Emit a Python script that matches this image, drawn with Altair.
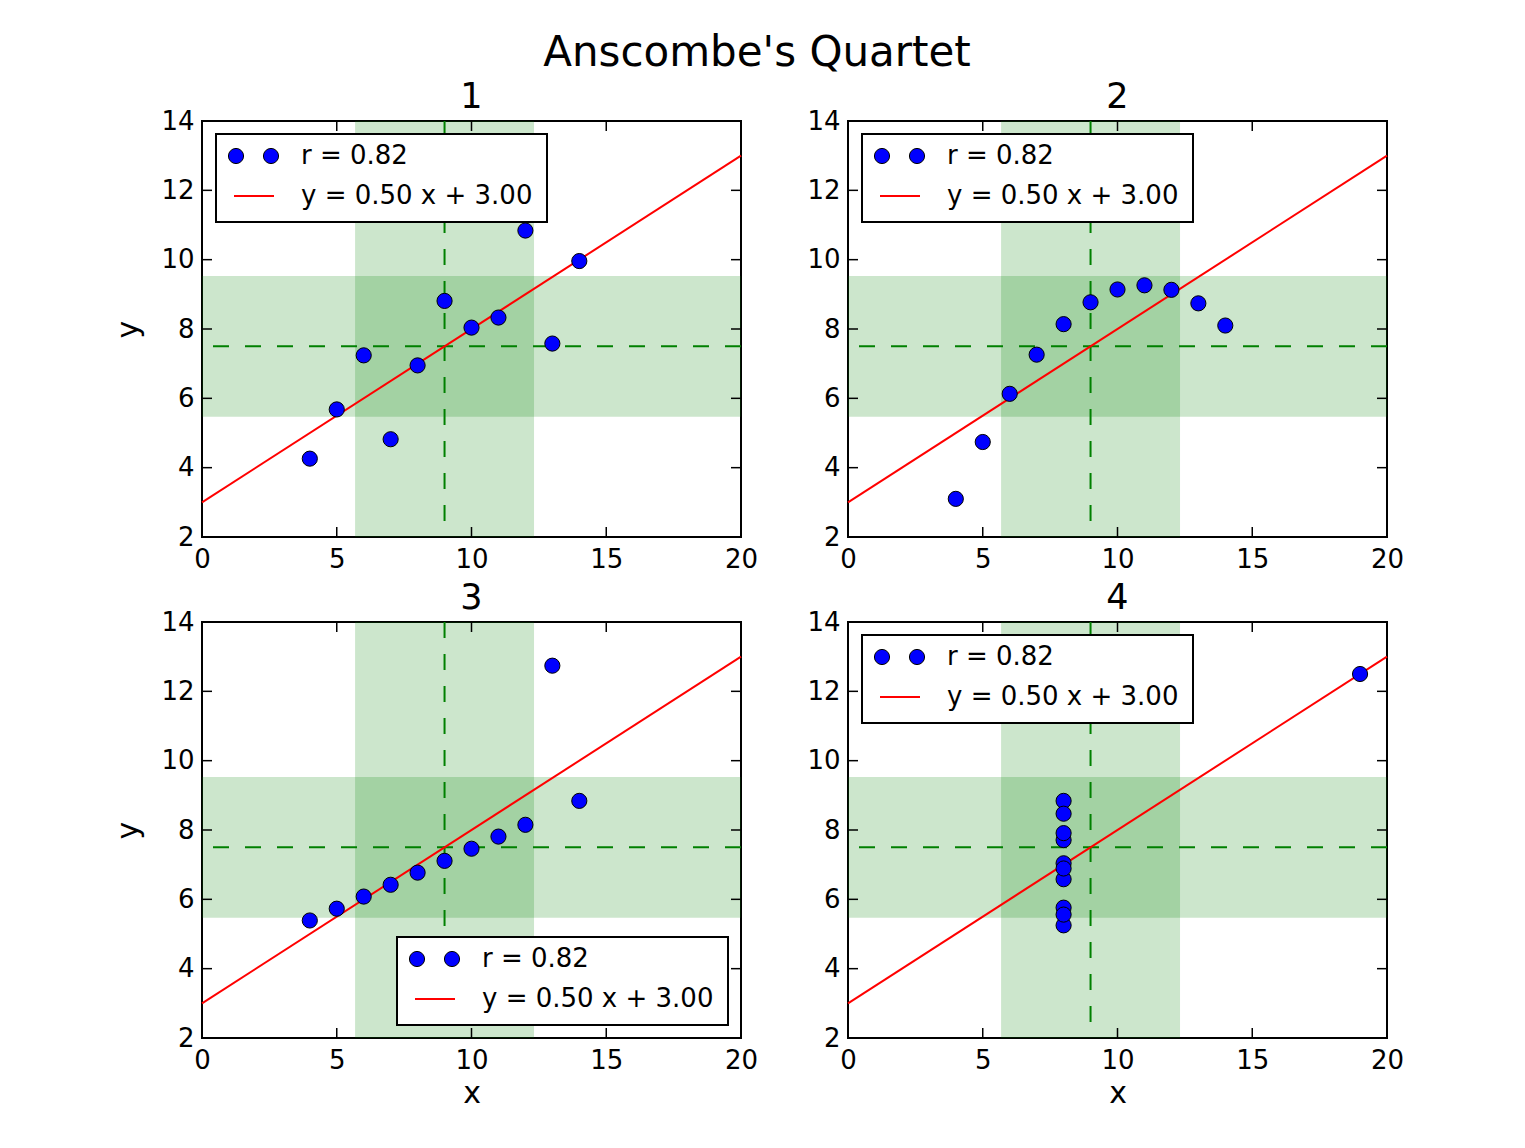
import altair as alt
import pandas as pd

# Anscombe's quartet data
x123 = [10, 8, 13, 9, 11, 14, 6, 4, 12, 7, 5]
y1 = [8.04, 6.95, 7.58, 8.81, 8.33, 9.96, 7.24, 4.26, 10.84, 4.82, 5.68]
y2 = [9.14, 8.14, 8.74, 8.77, 9.26, 8.10, 6.13, 3.10, 9.13, 7.26, 4.74]
y3 = [7.46, 6.77, 12.74, 7.11, 7.81, 8.84, 6.08, 5.39, 8.15, 6.42, 5.73]
x4 = [8, 8, 8, 8, 8, 8, 8, 19, 8, 8, 8]
y4 = [6.58, 5.76, 7.71, 8.84, 8.47, 7.04, 5.25, 12.50, 5.56, 7.91, 6.89]

x_mean, x_std = 9.0, 3.32
y_mean, y_std = 7.50, 2.03
slope, intercept = 0.50, 3.00

x_limits = [0, 20]
y_limits = [2, 14]
x_ticks = [0, 5, 10, 15, 20]
y_ticks = [2, 4, 6, 8, 10, 12, 14]
legend_labels = ["r = 0.82", "y = 0.50 x + 3.00"]
panel_titles = ["1", "2", "3", "4"]
main_title = "Anscombe's Quartet"

W, H = 539, 416
FONT = "DejaVu Sans"
GREEN = "#008000"
BLUE = "#0000ff"
RED = "#ff0000"
LEG_W, LEG_H = 331, 88
DASH = [16, 16]
DOT = 230


def one():
    return pd.DataFrame({"k": [0]})


def panel(idx, xs, ys, x_title, y_title, legend_corner, with_main_title=False):
    xscale = alt.Scale(domain=x_limits, nice=False, zero=False)
    yscale = alt.Scale(domain=y_limits, nice=False, zero=False)
    xaxis = alt.Axis(values=x_ticks, format="d", title=x_title)
    yaxis = alt.Axis(values=y_ticks, format="d", title=y_title)

    def X(f):
        return alt.X(f, scale=xscale, axis=xaxis)

    def Y(f):
        return alt.Y(f, scale=yscale, axis=yaxis)

    bands = pd.DataFrame({
        "x": [x_mean - x_std, x_limits[0]],
        "x2": [x_mean + x_std, x_limits[1]],
        "y": [y_limits[0], y_mean - y_std],
        "y2": [y_limits[1], y_mean + y_std],
    })
    band_layer = alt.Chart(bands).mark_rect(color=GREEN, opacity=0.2).encode(
        x=X("x:Q"), x2="x2:Q", y=Y("y:Q"), y2="y2:Q",
    )
    vline = alt.Chart(pd.DataFrame({"x": [x_mean]})).mark_rule(
        color=GREEN, strokeDash=DASH, strokeWidth=2
    ).encode(x=X("x:Q"))
    hline = alt.Chart(pd.DataFrame({"y": [y_mean]})).mark_rule(
        color=GREEN, strokeDash=DASH, strokeWidth=2
    ).encode(y=Y("y:Q"))

    fit = pd.DataFrame({"x": x_limits, "y": [slope * v + intercept for v in x_limits]})
    fit_layer = alt.Chart(fit).mark_line(color=RED, strokeWidth=2).encode(
        x=X("x:Q"), y=Y("y:Q"),
    )

    pts = pd.DataFrame({"x": xs, "y": ys})
    pts_layer = alt.Chart(pts).mark_circle(
        color=BLUE, stroke="black", strokeWidth=1, size=DOT, opacity=1
    ).encode(x=X("x:Q"), y=Y("y:Q"))

    xt = pd.DataFrame({"x": x_ticks})
    yt = pd.DataFrame({"y": y_ticks})
    tk = dict(color="black", strokeWidth=1.5)
    tick_layers = [
        alt.Chart(xt).mark_rule(**tk).encode(x=X("x:Q"), y=alt.value(H), y2=alt.value(H - 10)),
        alt.Chart(xt).mark_rule(**tk).encode(x=X("x:Q"), y=alt.value(0), y2=alt.value(10)),
        alt.Chart(yt).mark_rule(**tk).encode(y=Y("y:Q"), x=alt.value(0), x2=alt.value(10)),
        alt.Chart(yt).mark_rule(**tk).encode(y=Y("y:Q"), x=alt.value(W), x2=alt.value(W - 10)),
    ]

    if legend_corner == "upper left":
        lx, ly = 14, 13
    else:
        lx, ly = W - 13 - LEG_W, H - 13 - LEG_H
    dot = dict(color=BLUE, stroke="black", strokeWidth=1, size=DOT, opacity=1)
    txt = dict(align="left", baseline="middle", font=FONT, fontSize=26, color="black")
    leg = [
        alt.Chart(one()).mark_rect(fill="white", stroke="black", strokeWidth=2).encode(
            x=alt.value(lx), x2=alt.value(lx + LEG_W), y=alt.value(ly), y2=alt.value(ly + LEG_H)),
        alt.Chart(one()).mark_circle(**dot).encode(x=alt.value(lx + 20), y=alt.value(ly + 22)),
        alt.Chart(one()).mark_circle(**dot).encode(x=alt.value(lx + 55), y=alt.value(ly + 22)),
        alt.Chart(one()).mark_rule(color=RED, strokeWidth=2).encode(
            x=alt.value(lx + 18), x2=alt.value(lx + 58), y=alt.value(ly + 62)),
        alt.Chart(pd.DataFrame({"t": [legend_labels[0]]})).mark_text(**txt).encode(
            x=alt.value(lx + 85), y=alt.value(ly + 22), text="t:N"),
        alt.Chart(pd.DataFrame({"t": [legend_labels[1]]})).mark_text(**txt).encode(
            x=alt.value(lx + 85), y=alt.value(ly + 62), text="t:N"),
    ]

    titles = [
        alt.Chart(pd.DataFrame({"t": [panel_titles[idx]]})).mark_text(
            align="center", baseline="alphabetic", font=FONT, fontSize=35, color="black"
        ).encode(x=alt.value(W / 2), y=alt.value(-13), text="t:N")
    ]
    if with_main_title:
        titles.append(
            alt.Chart(pd.DataFrame({"t": [main_title]})).mark_text(
                align="center", baseline="alphabetic", font=FONT, fontSize=42, color="black"
            ).encode(x=alt.value(555), y=alt.value(-55), text="t:N")
        )

    return alt.layer(
        band_layer, vline, hline, fit_layer, pts_layer, *tick_layers, *leg, *titles
    ).properties(width=W, height=H)


p1 = panel(0, x123, y1, None, "y", "upper left", with_main_title=True)
p2 = panel(1, x123, y2, None, None, "upper left")
p3 = panel(2, x123, y3, "x", "y", "lower right")
p4 = panel(3, x4, y4, "x", None, "upper left")

chart = alt.concat(
    p1, p2, p3, p4, columns=2, spacing=alt.RowColnumber(row=85, column=107), bounds="flush"
).properties(
    padding={"left": 104, "top": 23, "right": 5, "bottom": 5},
    background="white",
).configure_view(
    stroke="black", strokeWidth=2
).configure_axis(
    labelFont=FONT, labelFontSize=26, labelColor="black",
    titleFont=FONT, titleFontSize=30, titleFontWeight="normal", titleColor="black",
    domain=False, ticks=False, tickSize=0, grid=False,
    labelPadding=8, labelFlush=False, labelOverlap=False,
).configure_axisX(
    titlePadding=5, labelPadding=9
).configure_axisY(
    titlePadding=17
)

chart.save("out.html", embed_options={"renderer": "svg", "actions": False})
